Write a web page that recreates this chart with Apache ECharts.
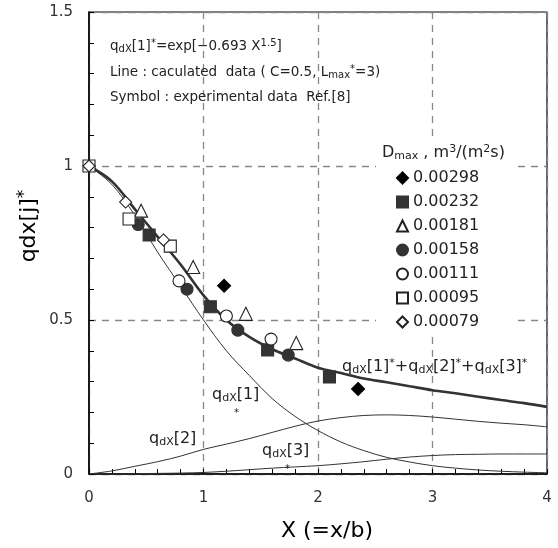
<!DOCTYPE html>
<html><head><meta charset="utf-8">
<script src="https://cdn.jsdelivr.net/npm/echarts@6/dist/echarts.min.js"></script>
<style>html,body{margin:0;padding:0;background:#fff}#c{width:558px;height:548px}</style>
</head><body><div id="c"></div>
<script>
// ---- data ----
const xGrid  = [0,0.2,0.4,0.6,0.8,1.0,1.2,1.4,1.6,1.8,2.0,2.2,2.4,2.6,2.8,3.0,3.2,3.4,3.6,3.8,4.0];
const q1     = [1,0.94,0.84,0.72,0.61,0.50,0.40,0.32,0.245,0.187,0.141,0.104,0.076,0.054,0.039,0.027,0.019,0.013,0.009,0.006,0.004];
const q2     = [0,0.010,0.025,0.040,0.058,0.080,0.097,0.115,0.135,0.155,0.172,0.183,0.190,0.192,0.190,0.185,0.178,0.171,0.165,0.160,0.153];
const q3     = [0,0,0.001,0.002,0.003,0.005,0.009,0.014,0.019,0.023,0.027,0.033,0.040,0.048,0.055,0.060,0.063,0.064,0.065,0.065,0.065];
const qTotal = [1,0.95,0.86,0.77,0.68,0.58,0.50,0.445,0.405,0.375,0.345,0.328,0.310,0.298,0.285,0.272,0.262,0.251,0.240,0.230,0.218];

const d00298 = [[1.18,0.611],[2.35,0.276]];
const d00232 = [[0.525,0.776],[1.06,0.543],[1.56,0.403],[2.1,0.315]];
const d00181 = [[0.455,0.855],[0.91,0.672],[1.37,0.52],[1.81,0.425]];
const d00158 = [[0.43,0.81],[0.856,0.60],[1.3,0.467],[1.74,0.386]];
const d00111 = [[0.786,0.627],[1.2,0.513],[1.59,0.438]];
const d00095 = [[0,1],[0.35,0.828],[0.71,0.74]];
const d00079 = [[0,1],[0.32,0.883],[0.65,0.76]];

const xTicks = [0,1,2,3,4];
const yTicks = [0,0.5,1,1.5];

// ---- chart ----
const FONT = "'DejaVu Sans', 'Liberation Sans', Arial, sans-serif";
const pairs = ys => xGrid.map((x,i)=>[x, ys[i]]);
const chart = echarts.init(document.getElementById('c'), null, {renderer:'canvas'});

function lineS(name, ys, w){
  return {name, type:'line', data:pairs(ys), smooth:0.35, symbol:'none', z:3,
    lineStyle:{color:'#333', width:w}};
}
function scat(name, data, symbol, fill, border, size){
  return {name, type:'scatter', data, symbol, symbolSize:size, z:5,
    itemStyle:{color:fill, borderColor:border, borderWidth:1.1, opacity:1}};
}

const rich = {
  n:{fontSize:13.5, fontFamily:FONT, color:'#222', lineHeight:18},
  s:{fontSize:10, fontFamily:FONT, color:'#222', lineHeight:10, verticalAlign:'bottom', padding:[0,0,1,0]},
  p:{fontSize:10, fontFamily:FONT, color:'#222', lineHeight:10, verticalAlign:'top', padding:[1,0,0,0]},
  N:{fontSize:16, fontFamily:FONT, color:'#222', lineHeight:20},
  S:{fontSize:11, fontFamily:FONT, color:'#222', lineHeight:11, verticalAlign:'bottom', padding:[0,0,1,0]},
  P:{fontSize:11, fontFamily:FONT, color:'#222', lineHeight:11, verticalAlign:'top', padding:[1,0,0,0]}
};
function txt(x, y, text, extra){
  return Object.assign({type:'text', x, y, z:10,
    style:{text, rich, fill:'#222', font:'14px '+FONT, verticalAlign:'middle'}}, extra||{});
}

chart.setOption({
  animation:false,
  backgroundColor:'#fff',
  grid:{left:89, right:11, top:12, bottom:74, show:true, borderColor:'#000', borderWidth:1.2, backgroundColor:'transparent'},
  xAxis:{type:'value', min:0, max:4, interval:1,
    axisLine:{lineStyle:{color:'#000', width:1.5}},
    axisTick:{inside:true, length:5, lineStyle:{color:'#000'}},
    minorTick:{show:true, splitNumber:5, length:5, lineStyle:{color:'#000'}},
    axisLabel:{margin:17, fontSize:15, color:'#333', fontFamily:FONT,
      formatter:v=> xTicks.includes(v) ? String(v) : ''},
    splitLine:{show:true, lineStyle:{color:'#888', type:[7,6], width:1.3}}},
  yAxis:{type:'value', min:0, max:1.5, interval:0.5,
    axisLine:{lineStyle:{color:'#000', width:1.5}},
    axisTick:{inside:true, length:5, lineStyle:{color:'#000'}},
    minorTick:{show:true, splitNumber:5, length:5, lineStyle:{color:'#000'}},
    axisLabel:{margin:16, fontSize:15, color:'#333', fontFamily:FONT,
      formatter:v=> yTicks.includes(v) ? String(v) : ''},
    splitLine:{show:true, lineStyle:{color:'#888', type:[7,6], width:1.3}}},
  legend:{show:true, orient:'vertical', left:396, top:170, padding:0, itemGap:8,
    itemWidth:11, itemHeight:11, selectedMode:false,
    textStyle:{fontSize:16, fontFamily:FONT, color:'#222', lineHeight:16},
    data:['0.00298','0.00232','0.00181','0.00158','0.00111','0.00095','0.00079']},
  series:[
    lineS('q1', q1, 1),
    lineS('q2', q2, 1),
    lineS('q3', q3, 1),
    lineS('total', qTotal, 2.6),
    scat('0.00298', d00298, 'diamond', '#000', '#000', 13),
    scat('0.00232', d00232, 'rect', '#333', '#333', 12),
    scat('0.00181', d00181, 'triangle', '#fff', '#222', 13),
    scat('0.00158', d00158, 'circle', '#333', '#333', 12),
    scat('0.00111', d00111, 'circle', '#fff', '#222', 12),
    scat('0.00095', d00095, 'rect', '#fff', '#222', 12),
    scat('0.00079', d00079, 'diamond', '#fff', '#222', 12)
  ],
  graphic:[
    {type:'rect', shape:{x:376, y:138, width:138, height:196}, style:{fill:'#fff'}, z:1},
    txt(110, 46, '{n|q}{s|dX}{n|[1]}{p|*}{n|=exp[−0.693 X}{p|1.5}{n|]}'),
    txt(110, 72, '{n|Line : caculated  data ( C=0.5, L}{s|max}{p|*}{n|=3)}'),
    txt(110, 97, '{n|Symbol : experimental data  Ref.[8]}'),
    txt(382, 153, '{N|D}{S|max}{N| , m}{P|3}{N|/(m}{P|2}{N|s)}'),
    txt(342, 367, '{N|q}{S|dX}{N|[1]}{P|*}{N|+q}{S|dX}{N|[2]}{P|*}{N|+q}{S|dX}{N|[3]}{P|*}'),
    txt(212, 395, '{N|q}{S|dX}{N|[1]}'),
    txt(234, 412, '{p|*}'),
    txt(149, 439, '{N|q}{S|dX}{N|[2]}'),
    txt(262, 451, '{N|q}{S|dX}{N|[3]}'),
    txt(285, 468, '{p|*}'),
    {type:'text', x:327, y:531, z:10, style:{text:'X (=x/b)', font:'22px '+FONT, fill:'#000', align:'center', verticalAlign:'middle'}},
    {type:'text', x:29, y:226, rotation:Math.PI/2, z:10,
      style:{text:'{t|qdx[j]}{u|*}', align:'center', verticalAlign:'middle',
        rich:{t:{fontSize:22, fontFamily:FONT, color:'#000', lineHeight:26},
              u:{fontSize:17, fontFamily:FONT, color:'#000', lineHeight:17, verticalAlign:'top'}}}}
  ]
});
</script></body></html>
